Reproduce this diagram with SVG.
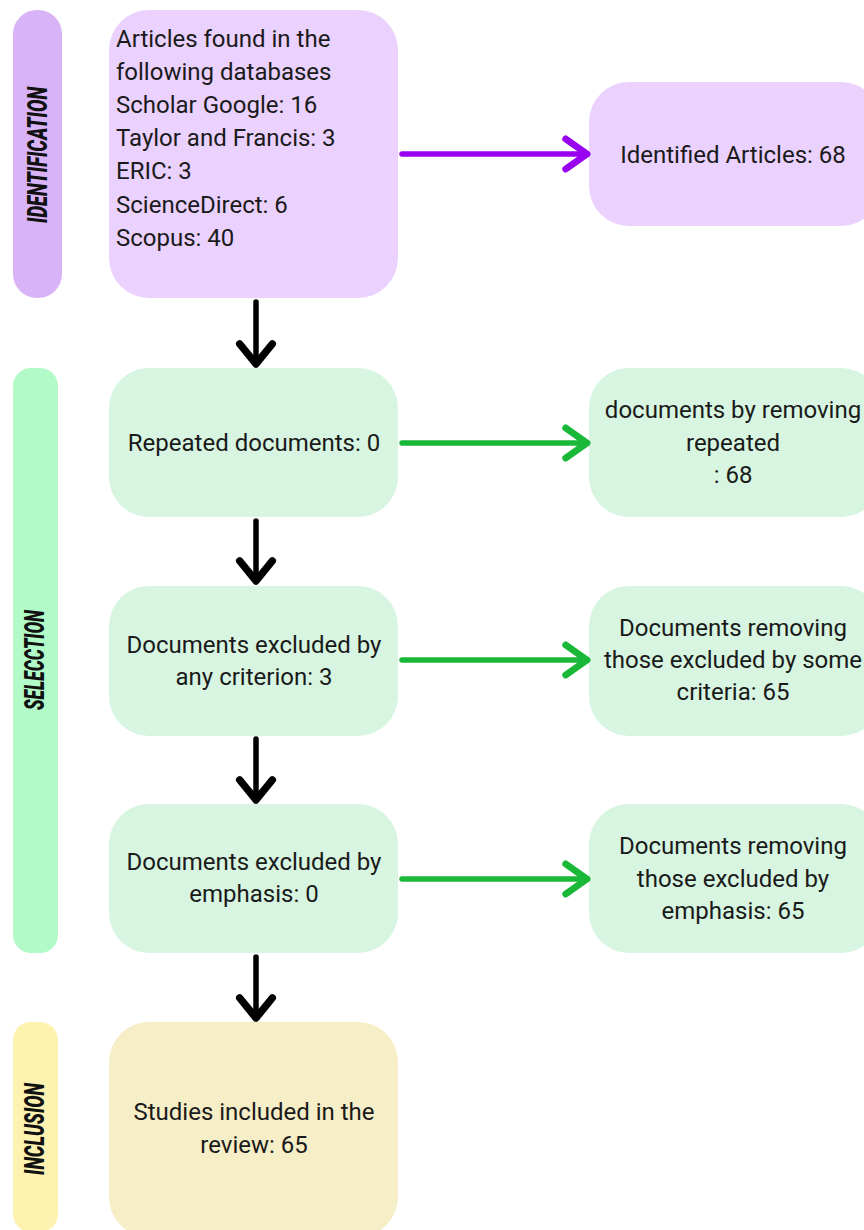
<svg xmlns="http://www.w3.org/2000/svg" width="864" height="1230" viewBox="0 0 864 1230">
<style>
.t{font-family:Roboto,"Liberation Sans",sans-serif;font-size:24px;fill:#1a1a1a}
.c{text-anchor:middle}
.lab{font-family:Roboto,"Liberation Sans",sans-serif;font-weight:900;font-style:italic;font-size:27px;fill:#111;text-anchor:middle}
.pbar{fill:#d9b3f7}.pbox{fill:#ebd1fd}
.gbar{fill:#b2fbc8}.gbox{fill:#d7f5e0}
.ybar{fill:#fdf2b0}.ybox{fill:#f5eec6}
.ar{fill:none;stroke-width:5.5;stroke-linecap:round;stroke-linejoin:round}
</style>
<defs>
<marker id="mp" markerUnits="userSpaceOnUse" orient="auto" markerWidth="40" markerHeight="40" refX="0" refY="0" viewBox="-22 -16 26 32" overflow="visible">
<path d="M-17,-12 L0,0 L-17,12" fill="none" stroke="#9900ef" stroke-width="5.5" stroke-linecap="round" stroke-linejoin="round"/>
</marker>
<marker id="mg" markerUnits="userSpaceOnUse" orient="auto" markerWidth="40" markerHeight="40" refX="0" refY="0" viewBox="-22 -16 26 32" overflow="visible">
<path d="M-17,-12 L0,0 L-17,12" fill="none" stroke="#1ab838" stroke-width="5.5" stroke-linecap="round" stroke-linejoin="round"/>
</marker>
<marker id="mk" markerUnits="userSpaceOnUse" orient="auto" markerWidth="40" markerHeight="40" refX="0" refY="0" viewBox="-22 -16 26 32" overflow="visible">
<path d="M-16,-13 L0,0 L-16,13" fill="none" stroke="#000" stroke-width="6" stroke-linecap="round" stroke-linejoin="round"/>
</marker>
</defs>

<g id="lane-identification">
<rect class="pbar" x="13" y="10" width="49" height="288" rx="24"/>
<text class="lab" transform="translate(47,155) rotate(-90)" textLength="136" lengthAdjust="spacingAndGlyphs">IDENTIFICATION</text>
</g>
<g id="lane-selection">
<rect class="gbar" x="13" y="368" width="45" height="585" rx="18"/>
<text class="lab" transform="translate(44,660) rotate(-90)" textLength="100" lengthAdjust="spacingAndGlyphs">SELECCTION</text>
</g>
<g id="lane-inclusion">
<rect class="ybar" x="13" y="1022" width="45" height="210" rx="18"/>
<text class="lab" transform="translate(44,1129) rotate(-90)" textLength="92" lengthAdjust="spacingAndGlyphs">INCLUSION</text>
</g>

<g id="n-databases">
<rect class="pbox" x="109" y="10" width="289" height="288" rx="40"/>
<text class="t" x="116" y="47">Articles found in the</text>
<text class="t" x="116" y="80">following databases</text>
<text class="t" x="116" y="113">Scholar Google: 16</text>
<text class="t" x="116" y="146">Taylor and Francis: 3</text>
<text class="t" x="116" y="179">ERIC: 3</text>
<text class="t" x="116" y="213">ScienceDirect: 6</text>
<text class="t" x="116" y="246">Scopus: 40</text>
</g>
<g id="n-identified">
<rect class="pbox" x="589" y="82" width="292" height="144" rx="40"/>
<text class="t c" x="733" y="163">Identified Articles: 68</text>
</g>

<g id="n-repeated">
<rect class="gbox" x="109" y="368" width="289" height="149" rx="40"/>
<text class="t c" x="254" y="451">Repeated documents: 0</text>
</g>
<g id="n-removing-repeated">
<rect class="gbox" x="589" y="368" width="292" height="149" rx="40"/>
<text class="t c" x="733" y="418">documents by removing</text>
<text class="t c" x="733" y="451">repeated</text>
<text class="t c" x="733" y="483">: 68</text>
</g>

<g id="n-excluded-criterion">
<rect class="gbox" x="109" y="586" width="289" height="150" rx="40"/>
<text class="t c" x="254" y="653">Documents excluded by</text>
<text class="t c" x="254" y="685">any criterion: 3</text>
</g>
<g id="n-removing-criteria">
<rect class="gbox" x="589" y="586" width="292" height="150" rx="40"/>
<text class="t c" x="733" y="636">Documents removing</text>
<text class="t c" x="733" y="668">those excluded by some</text>
<text class="t c" x="733" y="700">criteria: 65</text>
</g>

<g id="n-excluded-emphasis">
<rect class="gbox" x="109" y="804" width="289" height="149" rx="40"/>
<text class="t c" x="254" y="870">Documents excluded by</text>
<text class="t c" x="254" y="902">emphasis: 0</text>
</g>
<g id="n-removing-emphasis">
<rect class="gbox" x="589" y="804" width="292" height="149" rx="40"/>
<text class="t c" x="733" y="854">Documents removing</text>
<text class="t c" x="733" y="887">those excluded by</text>
<text class="t c" x="733" y="919">emphasis: 65</text>
</g>

<g id="n-included">
<rect class="ybox" x="109" y="1022" width="289" height="215" rx="40"/>
<text class="t c" x="254" y="1120">Studies included in the</text>
<text class="t c" x="254" y="1153">review: 65</text>
</g>

<g id="connectors">
<path class="ar" stroke="#9900ef" d="M402,154 L587,154" marker-end="url(#mp)"/>
<path class="ar" stroke="#1ab838" d="M402,443 L587,443" marker-end="url(#mg)"/>
<path class="ar" stroke="#1ab838" d="M402,660 L587,660" marker-end="url(#mg)"/>
<path class="ar" stroke="#1ab838" d="M402,879 L587,879" marker-end="url(#mg)"/>
<path class="ar" stroke="#000" stroke-width="6" d="M256,302 L256,364" marker-end="url(#mk)"/>
<path class="ar" stroke="#000" stroke-width="6" d="M256,521 L256,581" marker-end="url(#mk)"/>
<path class="ar" stroke="#000" stroke-width="6" d="M256,739 L256,800" marker-end="url(#mk)"/>
<path class="ar" stroke="#000" stroke-width="6" d="M256,957 L256,1018" marker-end="url(#mk)"/>
</g>
</svg>
